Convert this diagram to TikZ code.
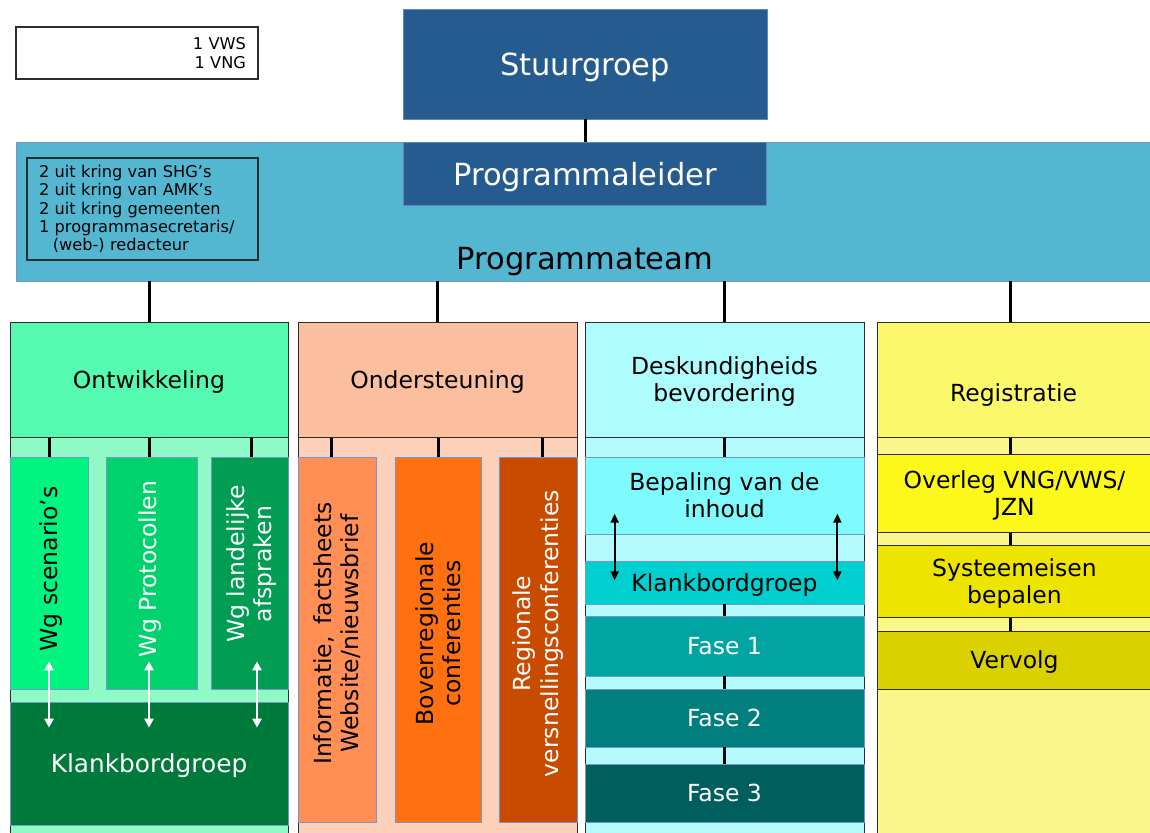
\documentclass[tikz,border=0pt]{standalone}
\usepackage{fontspec}
\setmainfont{DejaVu Sans}
\usetikzlibrary{calc,arrows.meta}
\definecolor{dblue}{RGB}{37,91,143}
\definecolor{dblueedge}{RGB}{95,135,185}
\definecolor{teamc}{RGB}{83,183,210}
\definecolor{edgeg}{RGB}{45,45,45}
\definecolor{edgeb}{RGB}{115,150,205}
\definecolor{ghead}{RGB}{84,250,175}
\definecolor{gband}{RGB}{143,250,198}
\definecolor{gone}{RGB}{0,245,128}
\definecolor{gtwo}{RGB}{0,210,110}
\definecolor{gthree}{RGB}{0,157,82}
\definecolor{gkb}{RGB}{0,122,58}
\definecolor{ohead}{RGB}{251,190,158}
\definecolor{oband}{RGB}{253,208,186}
\definecolor{oone}{RGB}{255,143,85}
\definecolor{otwo}{RGB}{255,112,16}
\definecolor{othree}{RGB}{200,75,0}
\definecolor{chead}{RGB}{173,252,254}
\definecolor{cband}{RGB}{181,251,253}
\definecolor{cbep}{RGB}{127,251,253}
\definecolor{ckb}{RGB}{0,207,207}
\definecolor{cfone}{RGB}{0,165,163}
\definecolor{cftwo}{RGB}{0,127,126}
\definecolor{cfthree}{RGB}{0,95,92}
\definecolor{yhead}{RGB}{251,249,107}
\definecolor{yband}{RGB}{250,246,137}
\definecolor{yov}{RGB}{252,248,26}
\definecolor{ysy}{RGB}{237,228,0}
\definecolor{yve}{RGB}{217,210,0}
\begin{document}
\begin{tikzpicture}[x=1pt,y=-1pt,
  plainbox/.style={rectangle, inner sep=0pt},
  box/.style={rectangle, inner sep=0pt, align=center, text depth=0pt},
  hdr/.style={box, draw=edgeg, line width=1pt, font=\fontsize{23.5}{27}\selectfont},
  colband/.style={box, draw=edgeg, line width=1pt},
  sub/.style={box, draw=edgeb, line width=0.7pt, font=\fontsize{23.5}{27}\selectfont},
  subd/.style={box, draw=edgeg, line width=1pt, font=\fontsize{23.5}{27}\selectfont},
  rot/.style={rotate=90, align=center, inner sep=0pt, font=\fontsize{23.5}{27.5}\selectfont},
  big/.style={font=\fontsize{30.5}{35}\selectfont},
  conn/.style={line width=3pt, black},
  warrow/.style={line width=2.5pt, white, {Triangle[length=9pt,width=9pt]}-{Triangle[length=9pt,width=9pt]}},
  barrow/.style={line width=2pt, black, {Triangle[length=9pt,width=8pt]}-{Triangle[length=9pt,width=8pt]}},
  small/.style={font=\fontsize{16.2}{18.3}\selectfont}
]
\useasboundingbox (0,0) rectangle (1150,832);
\clip (0,0) rectangle (1150,832);
\fill[white] (0,0) rectangle (1150,832);

% top
\node[plainbox, draw=edgeg, line width=1.2pt, minimum width=242pt, minimum height=52pt,
      text width=218pt, align=right, small] (vws) at (137,53) {1 VWS\\1 VNG};
\node[box, fill=dblue, draw=dblueedge, line width=0.8pt, minimum width=364pt, minimum height=110pt,
      text=white, big] (stuur) at (585,64) {Stuurgroep};
\node[box, fill=teamc, draw=edgeb, line width=0.6pt, minimum width=1144pt, minimum height=139pt] (team) at (588,211.5) {};
\node[box, fill=dblue, draw=dblueedge, line width=0.8pt, minimum width=363pt, minimum height=63pt,
      text=white, big] (leider) at (585,173.5) {Programmaleider};
\node[big, inner sep=0pt] (teamtxt) at (585,262) {Programmateam};
\node[plainbox, draw=edgeg, line width=1.2pt, minimum width=231pt, minimum height=102pt,
      text width=207pt, align=left, small] (members) at (142.5,209)
  {2 uit kring van SHG’s\\2 uit kring van AMK’s\\2 uit kring gemeenten\\1 programmasecretaris/\\\hspace*{0.85em}(web-) redacteur};
\draw[conn] (stuur.south) -- (leider.north);

% column 1
\node[colband, fill=gband, minimum width=278pt, minimum height=413pt] (band1) at (149,643.5) {};
\node[hdr, fill=ghead, minimum width=278pt, minimum height=115pt] (h1) at (149,379.5) {Ontwikkeling};
\node[sub, fill=gone, minimum width=78pt, minimum height=232pt] (wg1) at (49,573) {};
\node[sub, fill=gtwo, minimum width=91pt, minimum height=232pt] (wg2) at (151.5,573) {};
\node[sub, fill=gthree, minimum width=77pt, minimum height=232pt] (wg3) at (249.5,573) {};
\node[rot] (wg1t) at ($(wg1.center)+(2,-4)$) {Wg scenario’s};
\node[rot, text=white] (wg2t) at ($(wg2.center)+(-1,-4)$) {Wg Protocollen};
\node[rot, text=white] (wg3t) at ($(wg3.center)+(2,-9)$) {Wg landelijke\\afspraken};
\node[sub, fill=gkb, minimum width=278pt, minimum height=123pt, text=white,
      font=\fontsize{24.8}{28}\selectfont] (kb1) at (149,763.5) {Klankbordgroep};
\draw[conn] (team.south -| h1.north) -- (h1.north);
\draw[conn] (h1.south -| wg1.north) -- (wg1.north);
\draw[conn] ($(h1.south -| wg2.north)+(-2,0)$) -- ($(wg2.north)+(-2,0)$);
\draw[conn] ($(h1.south -| wg3.north)+(1.5,0)$) -- ($(wg3.north)+(1.5,0)$);
\draw[warrow] ($(wg1.south)+(0,-28)$) -- ($(wg1.south |- kb1.north)+(0,26)$);
\draw[warrow] ($(wg2.south)+(-2.5,-28)$) -- ($(wg2.south |- kb1.north)+(-2.5,26)$);
\draw[warrow] ($(wg3.south)+(7.5,-28)$) -- ($(wg3.south |- kb1.north)+(7.5,26)$);

% column 2
\node[colband, fill=oband, minimum width=279pt, minimum height=413pt] (band2) at (437.5,643.5) {};
\node[hdr, fill=ohead, minimum width=279pt, minimum height=115pt] (h2) at (437.5,379.5) {Ondersteuning};
\node[sub, fill=oone, minimum width=78pt, minimum height=365pt] (s1) at (337,639.5) {};
\node[sub, fill=otwo, minimum width=86pt, minimum height=365pt] (s2) at (438,639.5) {};
\node[sub, fill=othree, minimum width=78pt, minimum height=365pt] (s3) at (538,639.5) {};
\node[rot] (s1t) at ($(s1.center)+(0,-6)$) {Informatie,\enspace factsheets\\Website/nieuwsbrief};
\node[rot] (s2t) at ($(s2.center)+(0,-6)$) {Bovenregionale\\conferenties};
\node[rot, text=white] (s3t) at ($(s3.center)+(0,-6)$) {Regionale\\versnellingsconferenties};
\draw[conn] (team.south -| h2.north) -- (h2.north);
\draw[conn] ($(h2.south -| s1.north)+(-6,0)$) -- ($(s1.north)+(-6,0)$);
\draw[conn] (h2.south -| s2.north) -- (s2.north);
\draw[conn] ($(h2.south -| s3.north)+(4,0)$) -- ($(s3.north)+(4,0)$);

% column 3
\node[colband, fill=cband, minimum width=279pt, minimum height=413pt] (band3) at (724.5,643.5) {};
\node[hdr, fill=chead, minimum width=279pt, minimum height=115pt] (h3) at (724.5,379.5) {Deskundigheids\\bevordering};
\node[sub, fill=cbep, minimum width=279pt, minimum height=77pt] (bep) at (724.5,495.5) {Bepaling van de\\inhoud};
\node[sub, fill=ckb, minimum width=279pt, minimum height=43pt] (kb3) at (724.5,582.5) {Klankbordgroep};
\node[sub, fill=cfone, minimum width=279pt, minimum height=60pt, text=white] (f1) at (724.5,646) {Fase 1};
\node[sub, fill=cftwo, minimum width=279pt, minimum height=58pt, text=white] (f2) at (724.5,718) {Fase 2};
\node[sub, fill=cfthree, minimum width=279pt, minimum height=58pt, text=white] (f3) at (724.5,793) {Fase 3};
\draw[conn] (team.south -| h3.north) -- (h3.north);
\draw[conn] (h3.south) -- (bep.north);
\draw[conn] (kb3.south) -- (f1.north);
\draw[conn] (f1.south) -- (f2.north);
\draw[conn] (f2.south) -- (f3.north);
\draw[barrow] ($(bep.north west)+(30,57)$) -- ($(kb3.south west)+(30,-24)$);
\draw[barrow] ($(bep.north east)+(-27,57)$) -- ($(kb3.south east)+(-27,-24)$);

% column 4
\node[colband, fill=yband, minimum width=275pt, minimum height=413pt] (band4) at (1014.5,643.5) {};
\node[hdr, fill=yhead, minimum width=275pt, minimum height=115pt] (h4) at (1014.5,379.5) {};
\node[inner sep=0pt, font=\fontsize{23.5}{27}\selectfont] (h4t) at (1013.5,395) {Registratie};
\node[subd, fill=yov, minimum width=275pt, minimum height=78pt] (ov) at (1014.5,493) {Overleg VNG/VWS/\\JZN};
\node[subd, fill=ysy, minimum width=275pt, minimum height=72pt] (sy) at (1014.5,581) {Systeemeisen\\bepalen};
\node[subd, fill=yve, minimum width=275pt, minimum height=58pt] (ve) at (1014.5,660) {Vervolg};
\draw[conn] ($(team.south -| h4.north)+(-4.5,0)$) -- ($(h4.north)+(-4.5,0)$);
\draw[conn] ($(h4.south)+(-4.5,0)$) -- ($(ov.north)+(-4.5,0)$);
\draw[conn] ($(ov.south)+(-4.5,0)$) -- ($(sy.north)+(-4.5,0)$);
\draw[conn] ($(sy.south)+(-4.5,0)$) -- ($(ve.north)+(-4.5,0)$);
\end{tikzpicture}
\end{document}
